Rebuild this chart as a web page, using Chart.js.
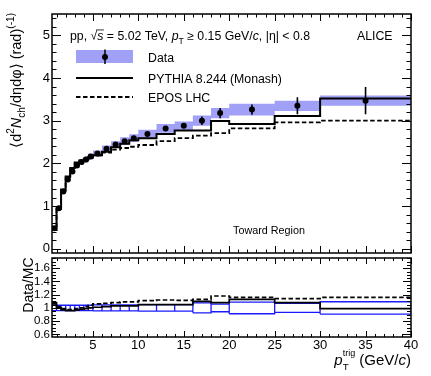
<!DOCTYPE html>
<html>
<head>
<meta charset="utf-8">
<script src="https://cdn.jsdelivr.net/npm/chart.js@4.4.1/dist/chart.umd.min.js"></script>
<style>
html, body { margin: 0; padding: 0; background: #fff; }
#wrap { position: relative; width: 431px; height: 376px; overflow: hidden; }
canvas { position: absolute; left: 0; }
#top { top: 0; }
#bot { top: 257px; }
</style>
</head>
<body>
<div id="wrap">
  <canvas id="top" width="431" height="257"></canvas>
  <canvas id="bot" width="431" height="119"></canvas>
</div>
<script>
const FONT = '"Liberation Sans", Arial, Helvetica, sans-serif';
const BAND = '#a0a0f6';

// pT^trig bins (GeV/c)
const binEdges = [0.5, 1, 1.5, 2, 2.5, 3, 3.5, 4, 4.5, 5, 6, 7, 8, 9, 10, 12, 14, 16, 18, 20, 25, 30, 40];

// top panel: toward region density
const dataValues = [0.48, 0.95, 1.34, 1.62, 1.81, 1.95, 2.03, 2.09, 2.16, 2.23, 2.34, 2.44, 2.52, 2.59, 2.69, 2.82, 2.88, 3.00, 3.18, 3.26, 3.35, 3.47];
const statErr = [0.01, 0.01, 0.01, 0.01, 0.01, 0.01, 0.01, 0.01, 0.01, 0.01, 0.01, 0.02, 0.02, 0.02, 0.03, 0.04, 0.05, 0.10, 0.12, 0.12, 0.20, 0.32];
const sysErr = [0.02, 0.03, 0.04, 0.05, 0.05, 0.06, 0.06, 0.07, 0.07, 0.07, 0.08, 0.08, 0.09, 0.09, 0.10, 0.10, 0.10, 0.12, 0.12, 0.14, 0.12, 0.12];
const pythiaValues = [0.44, 0.95, 1.39, 1.69, 1.89, 2.02, 2.07, 2.11, 2.15, 2.19, 2.27, 2.38, 2.46, 2.54, 2.59, 2.69, 2.77, 2.77, 2.99, 2.92, 3.11, 3.52];
const eposValues = [0.45, 0.93, 1.36, 1.66, 1.86, 1.99, 2.05, 2.09, 2.13, 2.19, 2.25, 2.32, 2.36, 2.39, 2.43, 2.52, 2.59, 2.65, 2.71, 2.82, 2.96, 3.00];

// bottom panel: Data/MC
const ratioPythia = [1.08, 1.00, 0.97, 0.96, 0.96, 0.97, 0.98, 0.99, 1.00, 1.01, 1.02, 1.03, 1.03, 1.03, 1.05, 1.05, 1.05, 1.10, 1.08, 1.13, 1.08, 0.99];
const ratioEpos = [1.06, 1.02, 0.99, 0.975, 0.975, 0.99, 1.00, 1.02, 1.04, 1.06, 1.07, 1.08, 1.09, 1.09, 1.11, 1.12, 1.115, 1.13, 1.18, 1.16, 1.14, 1.16];
const ratioUnc = [0.04, 0.04, 0.04, 0.04, 0.04, 0.04, 0.04, 0.04, 0.04, 0.045, 0.045, 0.045, 0.045, 0.045, 0.05, 0.05, 0.05, 0.075, 0.058, 0.088, 0.068, 0.093];

// tick labels
const topYTicks = ['0', '1', '2', '3', '4', '5'];
const ratioYTicks = ['0.6', '0.8', '1', '1.2', '1.4', '1.6'];
const xTicks = ['5', '10', '15', '20', '25', '30', '35', '40'];

// helpers to build library data from the arrays
const centers = binEdges.slice(0, -1).map((e, i) => (e + binEdges[i + 1]) / 2);
const stepPts = vals => binEdges.map((e, i) => ({ x: e, y: vals[Math.min(i, vals.length - 1)] }));

const errPts = [];
centers.forEach((c, i) => {
  errPts.push({ x: c, y: dataValues[i] - statErr[i] }, { x: c, y: dataValues[i] + statErr[i] }, { x: c, y: null });
});

const boxPts = [];
ratioUnc.forEach((u, i) => {
  const a = binEdges[i], b = binEdges[i + 1];
  boxPts.push({ x: a, y: 1 - u }, { x: a, y: 1 + u }, { x: b, y: 1 + u }, { x: b, y: 1 - u }, { x: a, y: 1 - u }, { x: a, y: null });
});

// rich text: parts with italic / sub / sup
function layoutRich(ctx, parts, size) {
  let x = 0, prevStart = 0, prevW = 0;
  const items = [];
  for (const p of parts) {
    const fs = size * (p.s || 1);
    ctx.font = (p.i ? 'italic ' : '') + fs + 'px ' + FONT;
    const w = ctx.measureText(p.t).width;
    if (p.stack) {
      items.push({ ...p, fs, x: prevStart, w });
      const end = Math.max(prevStart + prevW, prevStart + w);
      prevW = end - prevStart;
      x = end;
    } else {
      items.push({ ...p, fs, x, w });
      prevStart = x; prevW = w; x += w;
    }
  }
  return { items, width: x };
}

function drawRich(ctx, parts, size, x0, y0, align) {
  const lay = layoutRich(ctx, parts, size);
  const sx = align === 'right' ? x0 - lay.width : x0;
  ctx.textAlign = 'left';
  ctx.textBaseline = 'alphabetic';
  for (const it of lay.items) {
    ctx.font = (it.i ? 'italic ' : '') + it.fs + 'px ' + FONT;
    const y = y0 + (it.dy || 0) * size;
    ctx.fillText(it.t, sx + it.x, y);
    if (it.over) {
      ctx.beginPath();
      ctx.lineWidth = 0.8;
      ctx.moveTo(sx + it.x - 1, y - it.fs * 0.82);
      ctx.lineTo(sx + it.x + it.w + 0.5, y - it.fs * 0.82);
      ctx.stroke();
    }
  }
}

// ROOT-like frame with inward ticks on all sides
function drawAxes(chart, o) {
  const { ctx, chartArea: a } = chart;
  const xs = chart.scales.x, ys = chart.scales.y;
  ctx.save();
  ctx.strokeStyle = '#000';
  ctx.fillStyle = '#000';
  ctx.lineWidth = 1;
  ctx.beginPath();
  for (let k = Math.ceil(xs.min); k <= xs.max; k++) {
    const px = Math.round(xs.getPixelForValue(k)) + 0.5;
    const len = k % 5 === 0 ? o.xMaj : o.xMin;
    ctx.moveTo(px, a.bottom); ctx.lineTo(px, a.bottom - len);
    ctx.moveTo(px, a.top); ctx.lineTo(px, a.top + len);
  }
  const n0 = Math.ceil(ys.min / o.yStep - 1e-9), n1 = Math.floor(ys.max / o.yStep + 1e-9);
  for (let k = n0; k <= n1; k++) {
    const v = k * o.yStep;
    const r = v / o.yMajStep;
    const major = Math.abs(r - Math.round(r)) < 1e-6;
    const py = Math.round(ys.getPixelForValue(v)) + 0.5;
    const len = major ? o.yMaj : o.yMin;
    ctx.moveTo(a.left, py); ctx.lineTo(a.left + len, py);
    ctx.moveTo(a.right, py); ctx.lineTo(a.right - len, py);
  }
  ctx.stroke();
  ctx.lineWidth = 1.5;
  ctx.strokeRect(a.left, a.top, a.right - a.left, a.bottom - a.top);

  ctx.font = o.yFont + 'px ' + FONT;
  ctx.textAlign = 'right';
  ctx.textBaseline = 'middle';
  o.yLabels.forEach(t => ctx.fillText(t, a.left - 2, ys.getPixelForValue(parseFloat(t))));
  if (o.xLabels) {
    ctx.font = o.xFont + 'px ' + FONT;
    ctx.textAlign = 'center';
    ctx.textBaseline = 'top';
    o.xLabels.forEach(t => ctx.fillText(t, xs.getPixelForValue(parseFloat(t)), a.bottom + 1.5));
  }
  ctx.restore();
}

const baseOptions = (padding, ymin, ymax) => ({
  responsive: false,
  animation: false,
  events: [],
  layout: { padding },
  plugins: { legend: { display: false }, tooltip: { enabled: false } },
  scales: {
    x: { type: 'linear', min: 0.5, max: 40, display: false },
    y: { type: 'linear', min: ymin, max: ymax, display: false }
  },
  elements: { point: { radius: 0 }, line: { tension: 0 } }
});

const topDecor = {
  id: 'topDecor',
  afterDraw(chart) {
    const ctx = chart.ctx;
    drawAxes(chart, { xMaj: 7, xMin: 3.5, yStep: 0.2, yMajStep: 1, yMaj: 9, yMin: 4.5, yFont: 13, yLabels: topYTicks });
    ctx.save();
    ctx.fillStyle = '#000';
    ctx.strokeStyle = '#000';
    const fs = 12.3;
    drawRich(ctx, [
      { t: 'pp, ' }, { t: '\u221A' }, { t: 's', i: 1, over: 1 }, { t: ' = 5.02 TeV, ' },
      { t: 'p', i: 1 }, { t: 'T', s: 0.7, dy: 0.3 }, { t: ' \u2265 0.15 GeV/' }, { t: 'c', i: 1 },
      { t: ', |\u03B7| < 0.8' }
    ], fs, 70, 40);
    ctx.font = fs + 'px ' + FONT;
    ctx.textAlign = 'left';
    ctx.fillText('ALICE', 357, 40);

    // legend
    ctx.fillStyle = BAND;
    ctx.fillRect(76, 50, 57, 13);
    ctx.fillStyle = '#000';
    ctx.lineWidth = 1.5;
    ctx.beginPath(); ctx.moveTo(105, 49.5); ctx.lineTo(105, 64); ctx.stroke();
    ctx.beginPath(); ctx.arc(105, 57, 3, 0, Math.PI * 2); ctx.fill();
    ctx.font = fs + 'px ' + FONT;
    ctx.fillText('Data', 148, 61.5);
    ctx.lineWidth = 2;
    ctx.beginPath(); ctx.moveTo(76, 78); ctx.lineTo(133, 78); ctx.stroke();
    ctx.fillText('PYTHIA 8.244 (Monash)', 148, 82.5);
    ctx.setLineDash([4.5, 2.5]);
    ctx.lineWidth = 1.8;
    ctx.beginPath(); ctx.moveTo(76, 97); ctx.lineTo(133, 97); ctx.stroke();
    ctx.setLineDash([]);
    ctx.fillText('EPOS LHC', 148, 101.5);

    ctx.font = '10.8px ' + FONT;
    ctx.fillText('Toward Region', 233, 234);

    // y title
    ctx.translate(20.5, 13);
    ctx.rotate(-Math.PI / 2);
    drawRich(ctx, [
      { t: '\u27E8d' }, { t: '2', s: 0.7, dy: -0.42 }, { t: 'N', i: 1 }, { t: 'ch', s: 0.7, dy: 0.3 },
      { t: '/d\u03B7d\u03C6\u27E9 (rad)' }, { t: '(-1)', s: 0.7, dy: -0.45 }
    ], 14.5, 0, 0, 'right');
    ctx.restore();
  }
};

const botDecor = {
  id: 'botDecor',
  afterDraw(chart) {
    const ctx = chart.ctx;
    drawAxes(chart, { xMaj: 6, xMin: 3, yStep: 0.05, yMajStep: 0.2, yMaj: 8, yMin: 4, yFont: 11.5, yLabels: ratioYTicks, xFont: 13, xLabels: xTicks });
    ctx.save();
    ctx.fillStyle = '#000';
    ctx.strokeStyle = '#000';
    drawRich(ctx, [
      { t: 'p', i: 1 }, { t: 'T', s: 0.65, dy: 0.3 }, { t: 'trig', s: 0.6, dy: -0.6, stack: 1 },
      { t: ' (GeV/' }, { t: 'c', i: 1 }, { t: ')' }
    ], 15, 411, 108, 'right');
    ctx.translate(33, 0.5);
    ctx.rotate(-Math.PI / 2);
    drawRich(ctx, [{ t: 'Data/MC' }], 14, 0, 0, 'right');
    ctx.restore();
  }
};

new Chart(document.getElementById('top'), {
  type: 'line',
  data: {
    datasets: [
      { data: stepPts(dataValues.map((v, i) => v + sysErr[i])), stepped: true, borderWidth: 0, borderColor: 'transparent', fill: false, order: 10 },
      { data: stepPts(dataValues.map((v, i) => v - sysErr[i])), stepped: true, borderWidth: 0, borderColor: 'transparent', backgroundColor: BAND, fill: '-1', order: 9 },
      { data: stepPts(eposValues), stepped: true, borderColor: '#000', borderWidth: 1.8, borderDash: [4.5, 2.5], fill: false, order: 6 },
      { data: stepPts(pythiaValues), stepped: true, borderColor: '#000', borderWidth: 2, fill: false, order: 5 },
      { data: errPts, borderColor: '#000', borderWidth: 1.6, fill: false, spanGaps: false, order: 2 },
      { data: centers.map((c, i) => ({ x: c, y: dataValues[i] })), showLine: false, pointRadius: 3, pointStyle: 'circle', pointBackgroundColor: '#000', pointBorderWidth: 0, order: 1 }
    ]
  },
  options: baseOptions({ left: 52, right: 20, top: 14, bottom: 2 }, -0.1, 5.5),
  plugins: [topDecor]
});

new Chart(document.getElementById('bot'), {
  type: 'line',
  data: {
    datasets: [
      { data: boxPts, borderColor: '#1a1aff', borderWidth: 1.3, fill: false, spanGaps: false, order: 3 },
      { data: stepPts(ratioEpos), stepped: true, borderColor: '#000', borderWidth: 1.7, borderDash: [4.5, 2.5], fill: false, order: 2 },
      { data: stepPts(ratioPythia), stepped: true, borderColor: '#000', borderWidth: 1.7, fill: false, order: 1 }
    ]
  },
  options: baseOptions({ left: 52, right: 20, top: 1, bottom: 39 }, 0.56, 1.755),
  plugins: [botDecor]
});
</script>
</body>
</html>
